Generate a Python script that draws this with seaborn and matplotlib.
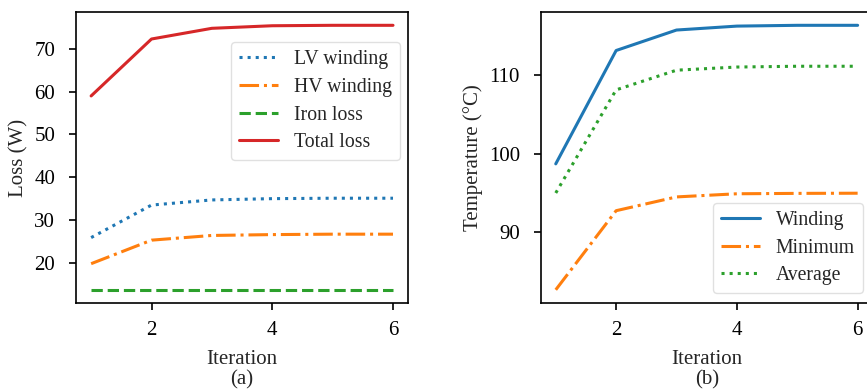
import pandas as pd
import matplotlib
matplotlib.use("Agg")
import matplotlib.pyplot as plt
import seaborn as sns

# data
iterations = [1, 2, 3, 4, 5, 6]

lv_winding = [25.9, 33.5, 34.7, 35.0, 35.1, 35.1]
hv_winding = [19.8, 25.3, 26.4, 26.6, 26.7, 26.7]
iron_loss = [13.7, 13.7, 13.7, 13.7, 13.7, 13.7]
total_loss = [59.0, 72.3, 74.8, 75.4, 75.5, 75.5]

temp_winding = [98.7, 113.1, 115.7, 116.2, 116.3, 116.3]
temp_minimum = [82.7, 92.75, 94.5, 94.9, 94.95, 94.97]
temp_average = [95.0, 108.1, 110.6, 111.0, 111.1, 111.1]

sns.set_theme(style="ticks")
plt.rcParams['font.family'] = ['Liberation Serif', 'DejaVu Serif']
plt.rcParams['font.size'] = 15
plt.rcParams['axes.linewidth'] = 1.2
plt.rcParams['xtick.major.width'] = 1.2
plt.rcParams['ytick.major.width'] = 1.2
plt.rcParams['xtick.major.size'] = 5
plt.rcParams['ytick.major.size'] = 5
plt.rcParams['xtick.major.pad'] = 8
plt.rcParams['ytick.major.pad'] = 10
plt.rcParams['axes.edgecolor'] = 'black'
plt.rcParams['xtick.color'] = 'black'
plt.rcParams['ytick.color'] = 'black'

colors = sns.color_palette("tab10")

fig = plt.figure(figsize=(8.67, 3.9), dpi=100)
ax1 = fig.add_axes([0.0877, 0.223, 0.383, 0.746])
ax2 = fig.add_axes([0.6236, 0.223, 0.383, 0.746])

# (a) losses
df_loss = pd.DataFrame({"Iteration": iterations, "LV winding": lv_winding,
                        "HV winding": hv_winding, "Iron loss": iron_loss,
                        "Total loss": total_loss})
loss_styles = [("LV winding", colors[0], ':'), ("HV winding", colors[1], '-.'),
               ("Iron loss", colors[2], '--'), ("Total loss", colors[3], '-')]
for name, c, ls in loss_styles:
    sns.lineplot(data=df_loss, x="Iteration", y=name, ax=ax1, color=c,
                 linestyle=ls, linewidth=2.2, label=name)
ax1.set_xticks([2, 4, 6])
ax1.set_yticks([20, 30, 40, 50, 60, 70])
ax1.set_xlabel("Iteration\n(a)", fontsize=15, linespacing=1.12, labelpad=7)
ax1.set_ylabel("Loss (W)", fontsize=15)
ax1.tick_params(labelsize=15)
ax1.legend(loc="upper right", bbox_to_anchor=(1.005, 0.93), fontsize=14.2,
           labelspacing=0.44, frameon=True, framealpha=0.8, edgecolor='0.85',
           fancybox=True)

# (b) temperatures
df_temp = pd.DataFrame({"Iteration": iterations, "Winding": temp_winding,
                        "Minimum": temp_minimum, "Average": temp_average})
temp_styles = [("Winding", colors[0], '-'), ("Minimum", colors[1], '-.'),
               ("Average", colors[2], ':')]
for name, c, ls in temp_styles:
    sns.lineplot(data=df_temp, x="Iteration", y=name, ax=ax2, color=c,
                 linestyle=ls, linewidth=2.2, label=name)
ax2.set_xticks([2, 4, 6])
ax2.set_yticks([90, 100, 110])
ax2.set_xlabel("Iteration\n(b)", fontsize=15, linespacing=1.12, labelpad=7)
ax2.set_ylabel("Temperature (°C)", fontsize=15)
ax2.tick_params(labelsize=15)
ax2.legend(loc="lower right", fontsize=14.2, labelspacing=0.44, frameon=True,
           framealpha=0.8, edgecolor='0.85', fancybox=True)

fig.savefig("out.png", dpi=100)
